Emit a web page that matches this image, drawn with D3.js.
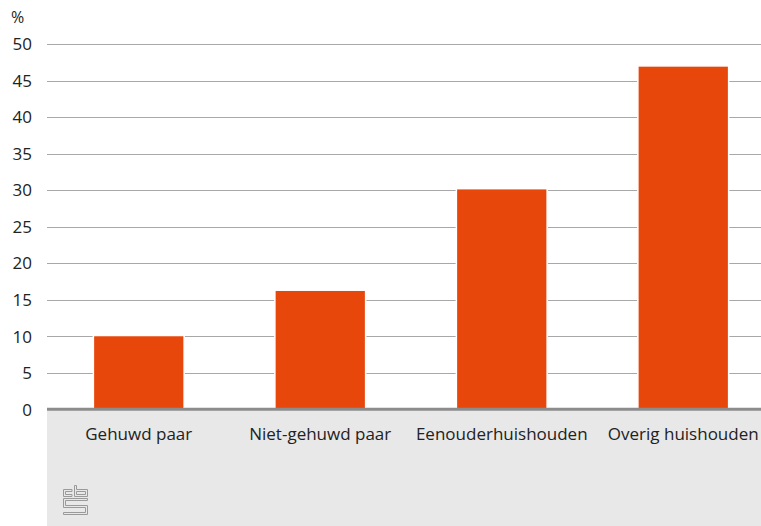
<!DOCTYPE html>
<html><head><meta charset="utf-8">
<script src="https://cdn.jsdelivr.net/npm/d3@7"></script>
<style>body{margin:0;background:#fff}svg{display:block}text{font-family:"Open Sans",sans-serif;fill:#222}</style>
</head><body><div id="c"></div>
<script>
const categories = ["Gehuwd paar","Niet-gehuwd paar","Eenouderhuishouden","Overig huishouden"];
const values = [10.1, 16.3, 30.2, 47.0];
const yTicks = [0,5,10,15,20,25,30,35,40,45,50];
const unitLabel = "%";

(function(){
const W=761,H=526;
const svg=d3.select("#c").append("svg").attr("width",W).attr("height",H);
const plotLeft=47, base=409.3, plotTop=44;
const x=d3.scaleBand().domain(categories).range([48,774]).paddingInner(0.5).paddingOuter(0.25);
const y=d3.scaleLinear().domain([0,50]).range([base,plotTop]);

// grey bottom panel
svg.append("rect").attr("x",plotLeft).attr("y",base).attr("width",W-plotLeft).attr("height",H-base).attr("fill","#e8e8e8");

// gridlines
svg.append("g").selectAll("line").data(yTicks.filter(d=>d>0)).join("line")
  .attr("x1",plotLeft).attr("x2",W).attr("y1",d=>Math.round(y(d))+0.5).attr("y2",d=>Math.round(y(d))+0.5)
  .attr("stroke","#a8a8a8").attr("stroke-width",1);

// y labels
const yAxis=d3.axisLeft(y).tickValues(yTicks).tickSize(0).tickPadding(0);
const ga=svg.append("g").attr("transform","translate(32,0)").call(yAxis);
ga.select(".domain").remove();
ga.selectAll("text").attr("font-size","17px").attr("font-family","Open Sans, sans-serif").attr("fill","#222").attr("dy","0.34em");
svg.append("text").attr("x",11).attr("y",23).attr("font-size","16px").text(unitLabel);

// bars
svg.append("g").selectAll("rect").data(values).join("rect")
  .attr("x",(d,i)=>x(categories[i])).attr("width",x.bandwidth())
  .attr("y",d=>y(d)).attr("height",d=>base-y(d))
  .attr("fill","#e8470b").attr("stroke","#fff").attr("stroke-width",1.5);

// baseline
svg.append("line").attr("x1",plotLeft).attr("x2",W).attr("y1",base).attr("y2",base).attr("stroke","#8c8c8c").attr("stroke-width",3);

// x labels
const xAxis=d3.axisBottom(x).tickSize(0).tickPadding(0);
const gx=svg.append("g").attr("transform","translate(0,"+(base+25)+")").call(xAxis);
gx.select(".domain").remove();
gx.selectAll("text").attr("font-size","17px").attr("font-family","Open Sans, sans-serif").attr("fill","#222").attr("dy","0.35em");

// cbs logo
const lg=svg.append("g").attr("fill","none").attr("stroke","#9a9a9a").attr("stroke-width",1);
lg.append("path").attr("d","M72,489.5 H63.5 V496.5 H72 V494.5 H65.5 V491.5 H72 Z");
lg.append("path").attr("d","M74.5,485.5 V496.5 H87.5 V489.5 H76.5 V485.5 Z M76.5,491.5 H85.5 V494.5 H76.5 Z");
lg.append("path").attr("d","M63.5,498.5 H87.5 V500.5 H65.5 V505.5 H87.5 V514.5 H63.5 V512.5 H85.5 V507.5 H63.5 Z");
})();
</script></body></html>
